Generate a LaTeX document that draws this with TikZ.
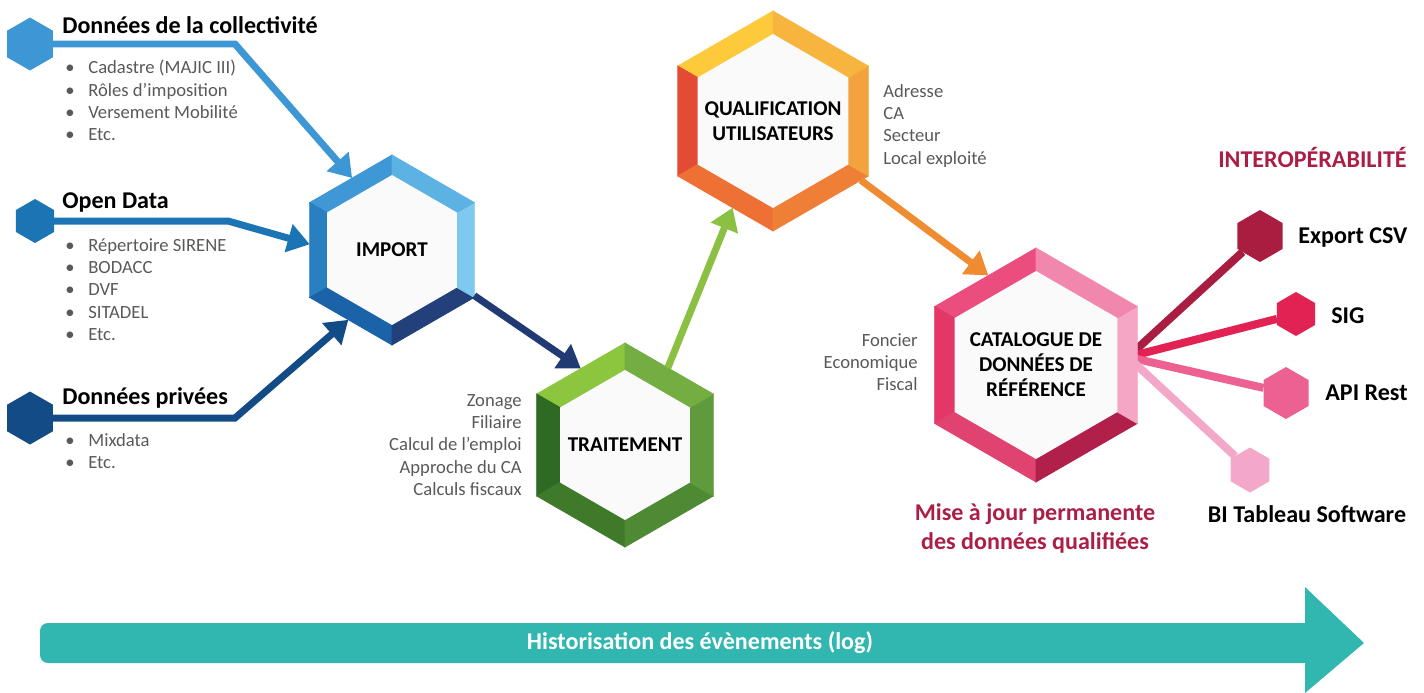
\documentclass[tikz,border=0pt]{standalone}
\usepackage{fontspec}
\setmainfont{Carlito}
\usetikzlibrary{arrows.meta, positioning, calc, shapes.geometric}

\pgfdeclarelayer{background}
\pgfsetlayers{background,main}

\definecolor{textgray}{HTML}{595959}
\definecolor{darkred}{HTML}{AB1F46}
\definecolor{collblue}{HTML}{3D97D4}
\definecolor{openblue}{HTML}{1B75B5}
\definecolor{privblue}{HTML}{134B86}
\definecolor{navy}{HTML}{213A73}
\definecolor{leafgreen}{HTML}{8CC043}
\definecolor{orangeline}{HTML}{EF8B30}
\definecolor{exportred}{HTML}{A81D40}
\definecolor{sigred}{HTML}{E22253}
\definecolor{apipink}{HTML}{EC6191}
\definecolor{bipink}{HTML}{F4A8C9}
\definecolor{logteal}{HTML}{31B6B0}
% rings
\definecolor{impA}{HTML}{3F97D5}\definecolor{impB}{HTML}{2A7FC0}\definecolor{impC}{HTML}{1A63A8}
\definecolor{impD}{HTML}{24407A}\definecolor{impE}{HTML}{7FC8EE}\definecolor{impF}{HTML}{5CB2E3}
\definecolor{trtA}{HTML}{8CC63F}\definecolor{trtB}{HTML}{2F6A24}\definecolor{trtC}{HTML}{3F7A2B}
\definecolor{trtD}{HTML}{4E8A34}\definecolor{trtE}{HTML}{5F9B3C}\definecolor{trtF}{HTML}{74AE43}
\definecolor{qualA}{HTML}{FDCA3C}\definecolor{qualB}{HTML}{E44B34}\definecolor{qualC}{HTML}{ED7035}
\definecolor{qualD}{HTML}{EF7F37}\definecolor{qualE}{HTML}{F3A33E}\definecolor{qualF}{HTML}{F7B53F}
\definecolor{catA}{HTML}{EC4D7F}\definecolor{catB}{HTML}{E33767}\definecolor{catC}{HTML}{E0436F}
\definecolor{catD}{HTML}{B1204A}\definecolor{catE}{HTML}{F5A6C5}\definecolor{catF}{HTML}{F287AD}

% ring of a big hexagon: node, then colours top-left, left, bottom-left, bottom-right, right, top-right
\newcommand{\hexring}[7]{%
  \path[fill=#2, draw=#2] (#1.center) -- (#1.90) -- (#1.150) -- cycle;
  \path[fill=#3, draw=#3] (#1.center) -- (#1.150) -- (#1.210) -- cycle;
  \path[fill=#4, draw=#4] (#1.center) -- (#1.210) -- (#1.270) -- cycle;
  \path[fill=#5, draw=#5] (#1.center) -- (#1.270) -- (#1.330) -- cycle;
  \path[fill=#6, draw=#6] (#1.center) -- (#1.330) -- (#1.30) -- cycle;
  \path[fill=#7, draw=#7] (#1.center) -- (#1.30) -- (#1.90) -- cycle;
}
\newcommand{\puce}{\makebox[0.46cm][l]{\textbullet}}

\begin{document}
\begin{tikzpicture}[x=0.02cm, y=-0.02cm,
    hexout/.style={regular polygon, regular polygon sides=6, shape border rotate=30, inner sep=0pt, outer sep=0pt},
    hexin/.style={hexout, fill=gray!4},
    hexlabel/.style={inner sep=0pt, align=center, font=\fontsize{12}{14.2}\selectfont\bfseries},
    title/.style={anchor=west, inner sep=0pt, font=\fontsize{13.7}{16}\selectfont\bfseries},
    itemlist/.style={anchor=north west, inner sep=0pt, align=left, text=textgray, font=\fontsize{10.6}{12.7}\selectfont},
    side/.style={inner sep=0pt, text=textgray, font=\fontsize{10.6}{12.7}\selectfont},
    outlabel/.style={inner sep=0pt, font=\fontsize{13.7}{16}\selectfont\bfseries},
    flow/.style={line width=0.14cm, -{Triangle[length=0.44cm, width=0.56cm]}},
    fan/.style={line width=0.16cm}
]

\useasboundingbox (0,0) rectangle (1424,693);

% Sources
\node[hexout, fill=collblue, minimum size=1.06cm] (coll) at (30,44) {};
\node[hexout, fill=openblue, minimum size=0.88cm] (open) at (35,221) {};
\node[hexout, fill=privblue, minimum size=1.06cm] (priv) at (30,418) {};

\node[title] (coll-title) at (62,25) {Données de la collectivité};
\node[title] (open-title) at (62,202) {Open Data};
\node[title] (priv-title) at (62,398) {Données privées};

\node[itemlist] (coll-list) at (65,60) {\puce Cadastre (MAJIC III)\\\puce Rôles d’imposition\\\puce Versement Mobilité\\\puce Etc.};
\node[itemlist] (open-list) at (65,238) {\puce Répertoire SIRENE\\\puce BODACC\\\puce DVF\\\puce SITADEL\\\puce Etc.};
\node[itemlist] (priv-list) at (65,433) {\puce Mixdata\\\puce Etc.};

% Big hexagons
\node[hexout, minimum size=3.8cm] (imp) at (392,250) {};
\hexring{imp}{impA}{impB}{impC}{impD}{impE}{impF}
\node[hexin, minimum size=3.0cm] (imp-in) at (imp) {};
\node[hexlabel] (imp-label) at (imp) {IMPORT};

\node[hexout, minimum size=4.08cm] (trt) at (625,445) {};
\hexring{trt}{trtA}{trtB}{trtC}{trtD}{trtE}{trtF}
\node[hexin, minimum size=3.0cm] (trt-in) at (trt) {};
\node[hexlabel] (trt-label) at (trt) {TRAITEMENT};

\node[hexout, minimum size=4.4cm] (qual) at (773,121) {};
\hexring{qual}{qualA}{qualB}{qualC}{qualD}{qualE}{qualF}
\node[hexin, minimum size=3.48cm] (qual-in) at (qual) {};
\node[hexlabel] (qual-label) at (qual) {QUALIFICATION\\UTILISATEURS};

\node[hexout, minimum size=4.68cm] (cat) at (1036,365) {};
\hexring{cat}{catA}{catB}{catC}{catD}{catE}{catF}
\node[hexin, minimum size=3.76cm] (cat-in) at (cat) {};
\node[hexlabel] (cat-label) at (cat) {CATALOGUE DE\\DONNÉES DE\\RÉFÉRENCE};

% Side texts
\node[side, anchor=north east, align=right] (trt-text) at (522,394) {Zonage\\Filiaire\\Calcul de l'emploi\\Approche du CA\\Calculs fiscaux};
\node[side, anchor=north west, align=left] (qual-text) at (883,84) {Adresse\\CA\\Secteur\\Local exploité};
\node[side, anchor=north east, align=right] (cat-text) at (918,333) {Foncier\\Economique\\Fiscal};
\node[outlabel, text=darkred, align=center, font=\fontsize{13.7}{16.5}\selectfont\bfseries] (maj) at (1035,528) {Mise à jour permanente\\des données qualifiées};

% Outputs
\node[outlabel, text=darkred, anchor=east] (interop) at (1407,157) {INTEROPÉRABILITÉ};
\node[hexout, fill=exportred, minimum size=1.04cm] (exp) at (1260,236) {};
\node[hexout, fill=sigred, minimum size=0.88cm] (sig) at (1296,314) {};
\node[hexout, fill=apipink, minimum size=1.04cm] (api) at (1286,393) {};
\node[hexout, fill=bipink, minimum size=0.9cm] (bi) at (1250,470) {};
\node[outlabel, anchor=west] (exp-label) at (1298,237) {Export CSV};
\node[outlabel, anchor=west] (sig-label) at (1331,316) {SIG};
\node[outlabel, anchor=west] (api-label) at (1325,393) {API Rest};
\node[outlabel] (bi-label) at (1307,514) {BI Tableau Software};

% Paths
\coordinate (coll-bend) at (235,44);
\coordinate (open-bend) at (228,221);
\coordinate (priv-bend) at (235,418);
\draw[flow, collblue] (coll) -- (coll-bend) -- (imp.119);
\draw[flow, openblue] (open) -- (open-bend) -- (imp.176);
\draw[flow, privblue] (priv) -- (priv-bend) -- (imp.-122);
\draw[flow, navy] (imp.-29) -- (trt.120);
\draw[flow, leafgreen] (trt.61) -- (qual.-115);
\draw[flow, orangeline] (qual.-34) -- (cat.118);

\coordinate (hub) at (1128,357);
\begin{pgfonlayer}{background}
\draw[fan, exportred] (hub) -- (exp);
\draw[fan, sigred] (hub) -- (sig);
\draw[fan, apipink] (hub) -- (api);
\draw[fan, bipink] (hub) -- (bi);
\end{pgfonlayer}

% Log arrow
\fill[logteal, rounded corners=0.16cm] (40,623) rectangle (1312,663);
\fill[logteal] (1305,587) -- (1364,643) -- (1305,693) -- cycle;
\node[outlabel, text=white] (log) at (700,643) {Historisation des évènements (log)};

\end{tikzpicture}
\end{document}
